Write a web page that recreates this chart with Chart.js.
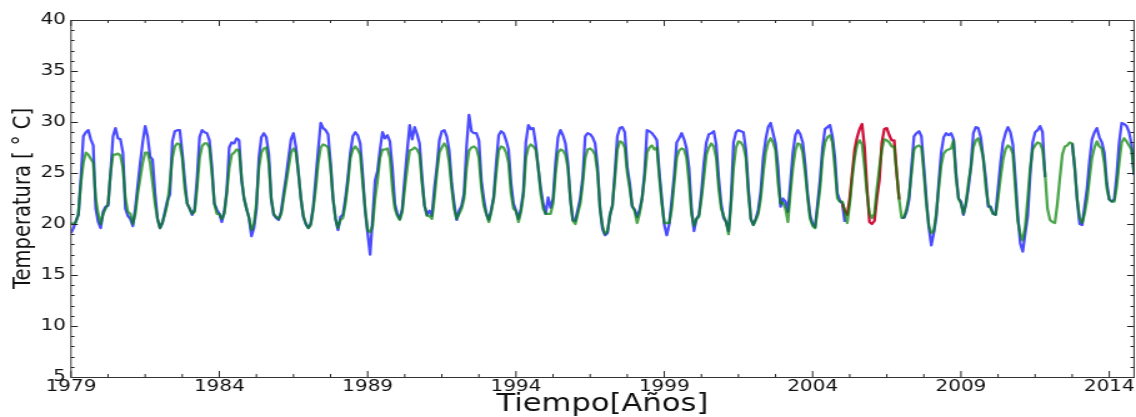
<!DOCTYPE html>
<html><head><meta charset="utf-8">
<script src="https://cdn.jsdelivr.net/npm/chart.js@4/dist/chart.umd.min.js"></script>
<style>html,body{margin:0;padding:0;background:#fff;overflow:hidden}</style></head>
<body><canvas id="c" width="909" height="417" style="display:block;width:1136px;height:417px"></canvas>
<script>
// ---- data (monthly, Jan 1979 .. Nov 2014) ----
const startYear = 1979;
const xTickLabels = [1979, 1984, 1989, 1994, 1999, 2004, 2009, 2014];
const yTickLabels = [5, 10, 15, 20, 25, 30, 35, 40];
const xTitle = 'Tiempo[Años]';
const yTitle = 'Temperatura [ ° C]';

const blueSeries = [
 19.1,19.6,20.3,20.9,24.5,28.6,29.0,29.2,28.3,27.7,21.5,20.2, // 1979
 19.6,21.2,21.7,21.8,25.0,28.6,29.4,28.4,28.3,27.0,21.5,20.8, // 1980
 20.5,19.8,21.5,23.8,26.0,28.0,29.6,28.6,26.6,26.3,23.0,20.5, // 1981
 19.6,20.1,21.2,22.3,22.9,28.1,29.1,29.2,29.2,27.0,24.3,22.0, // 1982
 21.5,20.9,21.4,24.5,28.5,29.2,29.0,28.9,28.2,25.6,22.0,21.4, // 1983
 21.0,20.2,21.2,23.2,27.5,28.0,27.9,28.4,28.2,24.3,22.5,21.5, // 1984
 20.6,18.8,19.6,21.5,26.5,28.5,28.9,28.5,26.9,22.4,20.9,20.6, // 1985
 20.4,21.2,23.0,24.6,26.5,28.3,28.9,27.5,25.0,22.5,20.7,20.0, // 1986
 19.6,20.1,21.7,24.5,27.3,29.9,29.4,29.2,28.8,26.0,22.5,20.5, // 1987
 19.4,20.7,20.9,22.5,24.5,27.0,28.6,29.0,28.7,27.9,24.8,21.2, // 1988
 19.1,17.0,20.5,24.3,25.2,27.3,29.0,28.4,28.7,28.1,25.5,22.0, // 1989
 21.0,20.5,21.5,24.5,27.2,29.7,28.3,29.5,28.8,27.9,24.5,21.8, // 1990
 20.9,21.3,20.8,23.5,25.6,28.2,29.1,29.2,28.6,27.2,24.0,22.0, // 1991
 20.4,21.3,21.8,23.0,27.6,30.7,29.1,28.9,28.9,28.2,24.3,22.4, // 1992
 21.0,20.4,21.4,22.7,26.0,28.7,29.1,28.9,28.2,27.3,24.0,22.0, // 1993
 21.3,20.5,21.5,23.2,28.0,29.7,29.3,29.4,27.8,25.5,23.5,22.0, // 1994
 21.0,22.6,21.6,22.5,26.0,28.5,29.2,28.7,27.9,26.0,22.4,20.4, // 1995
 20.3,21.4,22.5,24.6,28.6,28.9,28.8,28.5,27.9,25.6,21.5,19.5, // 1996
 18.9,19.1,20.9,21.8,25.0,28.6,29.4,29.5,29.0,25.6,24.0,21.7, // 1997
 21.4,20.7,21.4,22.5,25.0,29.2,29.1,28.9,28.6,28.2,25.0,22.4, // 1998
 19.9,18.9,20.0,22.3,24.8,28.0,28.4,28.9,28.3,27.4,25.5,21.5, // 1999
 19.3,20.5,20.9,23.0,26.0,28.0,28.8,28.9,29.1,27.8,24.5,22.0, // 2000
 20.6,20.2,19.3,22.4,28.0,29.0,29.2,29.1,29.0,27.3,23.5,20.5, // 2001
 19.9,20.5,21.4,23.2,26.5,28.3,29.5,29.9,28.9,27.9,25.6,21.7, // 2002
 22.5,22.2,21.2,24.0,27.0,28.7,29.2,28.8,28.0,25.8,22.9,20.8, // 2003
 20.0,19.7,22.0,24.3,27.5,29.3,29.5,29.7,28.6,26.5,23.0,22.3, // 2004
 22.0,20.2,null,null,null,null,null,null,null,null,null,null, // 2005
 null,null,null,null,null,null,null,null,null,null,null,null, // 2006
 20.6,20.6,21.2,22.4,25.6,28.6,28.9,29.1,28.6,25.6,22.4,19.7, // 2007
 17.9,19.1,20.7,24.0,27.0,28.5,28.9,28.7,28.9,28.3,25.0,22.5, // 2008
 22.2,20.9,22.0,23.5,25.6,28.9,29.5,29.4,28.5,26.5,24.5,21.7, // 2009
 21.7,21.0,20.9,23.5,26.0,28.0,28.9,29.5,29.0,27.8,24.5,20.8, // 2010
 18.1,17.3,19.1,20.8,24.8,28.0,29.0,29.2,29.6,29.0,24.6,null, // 2011
 null,null,null,null,null,null,null,null,null,27.9,25.6,22.4, // 2012
 20.0,19.9,21.7,23.5,26.2,28.3,29.0,29.4,28.5,28.0,27.0,24.0, // 2013
 22.4,22.2,22.4,24.8,28.0,29.9,29.8,29.6,29.0,27.8,24.8       // 2014
];

const greenSeries = [
 20.1,20.0,20.2,21.0,24.0,26.0,27.0,26.8,26.4,26.0,22.5,21.0, // 1979
 20.0,21.0,21.5,22.0,25.0,26.8,26.8,26.9,26.7,25.5,22.5,21.2, // 1980
 21.0,20.0,21.0,23.0,24.5,26.0,27.0,27.0,26.0,24.0,22.0,20.5, // 1981
 19.6,20.2,21.0,22.0,24.0,26.5,27.6,27.9,27.8,26.5,23.5,22.0, // 1982
 21.5,21.0,21.2,23.5,26.5,27.6,27.9,27.9,27.5,25.0,22.0,21.0, // 1983
 21.0,20.5,21.0,23.0,25.5,26.8,27.0,27.3,27.2,24.5,22.5,21.5, // 1984
 20.6,19.4,20.0,22.0,25.5,27.0,27.4,27.5,26.0,22.5,21.0,20.7, // 1985
 20.5,21.0,22.5,24.0,25.5,27.0,27.4,27.0,25.0,22.5,20.8,20.0, // 1986
 19.6,19.9,21.5,23.5,26.0,27.5,27.8,27.7,27.5,25.5,22.5,20.5, // 1987
 19.6,20.4,20.6,22.0,24.0,26.5,27.3,27.6,27.3,26.8,24.0,21.5, // 1988
 19.4,19.2,19.8,22.5,24.3,26.5,27.3,27.3,27.4,26.5,23.5,21.5, // 1989
 20.8,20.4,21.2,23.5,25.5,27.2,27.3,27.5,27.3,26.8,24.0,21.8, // 1990
 20.8,20.8,20.5,22.5,25.0,27.0,27.5,27.9,27.5,26.0,23.5,21.5, // 1991
 20.5,21.0,21.5,22.5,25.5,27.2,27.5,27.6,27.4,26.5,23.5,21.8, // 1992
 21.0,20.2,21.2,22.5,25.0,27.2,27.6,27.5,27.0,26.0,23.0,21.5, // 1993
 21.3,20.2,21.2,22.8,26.5,27.5,27.8,27.6,27.3,25.5,23.0,21.5, // 1994
 21.0,21.0,21.0,22.0,25.0,27.0,27.3,27.2,26.8,25.5,22.5,20.3, // 1995
 20.0,21.0,22.0,24.0,26.5,27.3,27.4,27.2,26.8,25.0,21.5,19.8, // 1996
 19.0,19.3,20.8,21.8,24.5,27.3,28.1,28.0,27.5,25.0,23.5,21.8, // 1997
 21.3,20.1,21.0,22.5,24.5,27.0,27.5,27.7,27.3,27.5,24.5,22.0, // 1998
 20.1,20.1,20.1,21.5,24.0,26.5,27.2,27.4,27.3,26.5,24.0,21.0, // 1999
 19.8,20.5,20.7,22.5,24.5,26.8,27.5,27.9,27.6,26.5,23.5,21.5, // 2000
 20.8,20.2,19.0,22.0,25.5,27.5,28.1,28.0,27.6,26.5,23.0,20.5, // 2001
 19.9,20.4,21.0,22.5,25.0,27.0,28.0,28.4,28.0,27.2,24.0,22.0, // 2002
 22.1,21.5,20.2,23.0,25.5,27.2,27.9,27.8,27.0,25.0,22.5,20.5, // 2003
 19.8,19.6,21.5,23.5,26.5,28.0,28.5,28.7,28.0,25.5,22.5,22.2, // 2004
 22.2,21.3,20.1,22.0,24.5,26.5,27.8,28.2,27.8,25.6,23.0,21.0, // 2005
 20.6,21.0,23.5,25.5,27.3,28.3,28.2,28.0,27.6,27.6,25.0,22.4, // 2006
 20.6,20.7,21.5,22.8,25.0,27.3,27.6,27.7,27.5,25.0,22.0,19.8, // 2007
 19.1,19.3,21.0,23.5,25.8,26.9,27.2,27.3,27.4,28.2,24.5,22.5, // 2008
 22.0,21.0,22.0,24.0,25.5,27.5,28.2,28.4,27.6,26.5,23.7,22.0, // 2009
 21.5,21.0,20.9,22.5,24.5,26.3,27.3,27.7,27.5,26.9,23.5,20.3, // 2010
 19.0,18.4,19.8,22.5,25.5,27.3,27.7,28.0,27.9,27.3,25.0,21.5, // 2011
 20.4,20.2,20.1,22.0,24.5,26.8,27.6,27.7,28.0,27.9,25.6,22.4, // 2012
 20.6,20.1,21.0,22.4,24.5,26.5,27.5,28.1,27.6,27.4,26.0,23.5, // 2013
 22.4,22.2,22.2,23.7,26.0,28.0,28.4,28.1,27.7,27.3,25.0       // 2014
];

// red segment: Jan 2005 .. Dec 2006
const redStartYear = 2005;
const redSeries = [
 22.0,21.3,20.9,22.5,25.0,27.3,28.5,29.3,29.8,27.5,23.5,20.2, // 2005
 20.0,20.3,22.5,24.3,28.0,29.3,29.4,28.7,28.2,28.2,25.0,22.4  // 2006
];

// ---- build ----
const toPoints = (arr, y0) => arr.map((v, i) => ({ x: y0 + i / 12, y: v }));
const xMax = startYear + (blueSeries.length - 1) / 12;

const xMinor = [];
for (let v = xTickLabels[0]; v <= xMax + 1e-6; v += 1.25) xMinor.push(v);
const yMinor = [];
for (let v = yTickLabels[0]; v <= yTickLabels[yTickLabels.length - 1]; v += 1) yMinor.push(v);

const boxPlugin = {
  id: 'boxTicks',
  afterDraw(chart) {
    const { ctx, chartArea: a, scales: { x, y } } = chart;
    ctx.save();
    ctx.strokeStyle = '#222';
    ctx.lineWidth = 1;
    const seg = (x1, y1, x2, y2) => { ctx.beginPath(); ctx.moveTo(x1, y1); ctx.lineTo(x2, y2); ctx.stroke(); };
    xMinor.forEach(v => {
      const px = x.getPixelForValue(v);
      const L = xTickLabels.includes(Math.round(v * 100) / 100) ? 6 : 3;
      seg(px, a.bottom, px, a.bottom - L);
      seg(px, a.top, px, a.top + L);
    });
    yMinor.forEach(v => {
      const py = Math.round(y.getPixelForValue(v)) + 0.5;
      const L = yTickLabels.includes(v) ? 5.5 : 2.8;
      seg(a.left, py, a.left + L, py);
      seg(a.right, py, a.right - L, py);
    });
    ctx.strokeStyle = '#333';
    ctx.strokeRect(a.left, a.top + 0.5, a.right - a.left, a.bottom - a.top);
    ctx.restore();
  }
};

new Chart(document.getElementById('c'), {
  type: 'line',
  data: {
    datasets: [
      { label: 'green', data: toPoints(greenSeries, startYear), borderColor: 'rgba(0,128,0,0.7)', borderWidth: 2.3, pointRadius: 0, tension: 0, borderJoinStyle: 'round', order: 1 },
      { label: 'red', data: toPoints(redSeries, redStartYear), borderColor: 'rgb(208,16,56)', borderWidth: 2.3, pointRadius: 0, tension: 0, borderJoinStyle: 'round', order: 2 },
      { label: 'blue', data: toPoints(blueSeries, startYear), borderColor: 'rgba(0,0,255,0.7)', borderWidth: 2.3, pointRadius: 0, tension: 0, borderJoinStyle: 'round', spanGaps: false, order: 3 }
    ]
  },
  options: {
    responsive: false,
    animation: false,
    events: [],
    layout: { padding: { left: 0, right: 1.6, top: 20, bottom: 0 } },
    plugins: { legend: { display: false }, tooltip: { enabled: false } },
    scales: {
      x: {
        type: 'linear', min: startYear, max: xMax,
        afterBuildTicks: s => { s.ticks = xTickLabels.map(v => ({ value: v })); },
        afterFit: s => { s.height = 40; },
        grid: { display: false, drawTicks: false },
        border: { display: false },
        ticks: { padding: 0, color: '#111', font: { family: 'DejaVu Sans', size: 16 }, maxRotation: 0, autoSkip: false, callback: v => String(v) },
        title: { display: true, text: xTitle, color: '#111', font: { family: 'DejaVu Sans', size: 24.5, lineHeight: 1 }, padding: { top: 0, bottom: 0 } }
      },
      y: {
        type: 'linear', min: 5, max: 40,
        afterBuildTicks: s => { s.ticks = yTickLabels.map(v => ({ value: v })); },
        afterFit: s => { s.width = 56.8; },
        grid: { display: false, drawTicks: false },
        border: { display: false },
        ticks: { padding: 4, color: '#111', font: { family: 'DejaVu Sans', size: 16 }, callback: v => String(v) },
        title: { display: true, text: yTitle, color: '#111', font: { family: 'DejaVu Sans', size: 19.5, lineHeight: 1.2 }, padding: { top: 7, bottom: 0 } }
      }
    }
  },
  plugins: [boxPlugin]
});
</script>
</body></html>
